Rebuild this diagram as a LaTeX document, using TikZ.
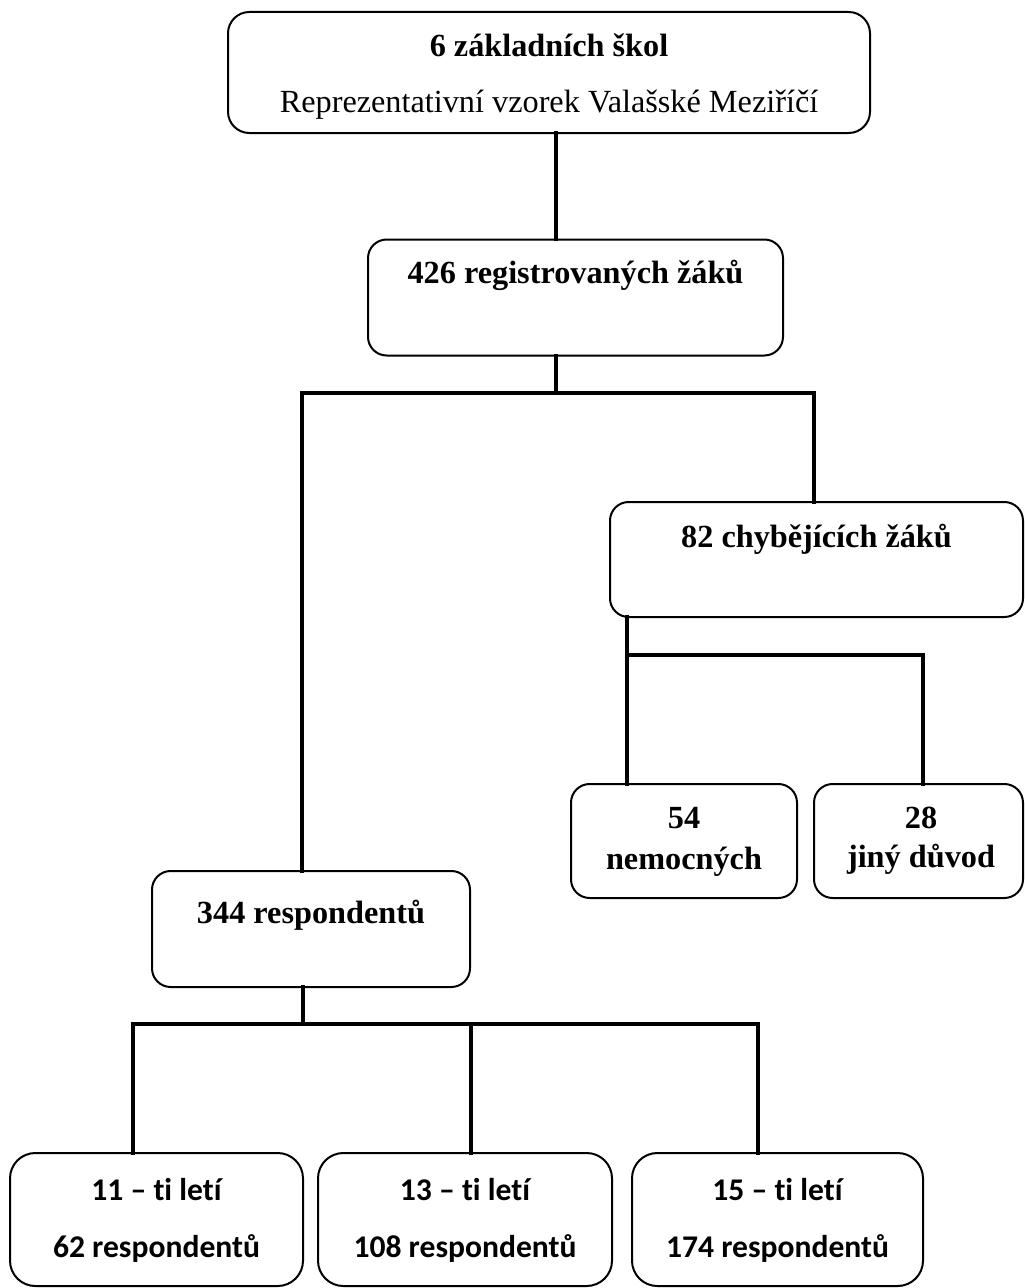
\documentclass[tikz,border=0pt]{standalone}
\usepackage{fontspec}
\setmainfont{Liberation Serif}
\newfontfamily\calib[Ligatures=NoCommon]{Carlito}
\begin{document}
\begin{tikzpicture}[x=0.75pt,y=-0.75pt,
  box/.style={draw=black, line width=1.5pt, rounded corners=14pt, inner sep=0pt, outer sep=0pt, fill=white},
  conn/.style={draw=black, line width=2.6pt, line cap=rect},
  sb/.style={anchor=base, inner sep=0pt, font=\fontsize{24.2}{28}\selectfont\bfseries},
  sr/.style={anchor=base, inner sep=0pt, font=\fontsize{24.2}{28}\selectfont},
  cb/.style={anchor=base, inner sep=0pt, font=\fontsize{23.7}{28}\selectfont\calib\bfseries}]
\useasboundingbox (0,0) rectangle (1024,1288);
% connector junctions
\coordinate (j1) at (556,393);
\coordinate (jL) at (302,393);
\coordinate (jR) at (814,393);
\coordinate (k1) at (627,655);
\coordinate (k2) at (923,655);
\coordinate (m0) at (303,1024);
\coordinate (mL) at (133,1024);
\coordinate (mM) at (471,1024);
\coordinate (mR) at (758,1024);
% boxes
\node[box, rounded corners=16pt, minimum width=481.5pt, minimum height=90.75pt] (b1) at (549,72.5) {};
\node[box, minimum width=311.25pt, minimum height=87pt] (b2) at (575.5,297.5) {};
\node[box, minimum width=309.75pt, minimum height=86.25pt] (b82) at (816.5,559.5) {};
\node[box, minimum width=169.5pt, minimum height=85.5pt] (b54) at (684,841) {};
\node[box, minimum width=156.75pt, minimum height=85.5pt] (b28) at (918.5,841) {};
\node[box, minimum width=238.5pt, minimum height=87pt] (b344) at (311,929) {};
\node[box, rounded corners=19pt, minimum width=219.75pt, minimum height=99.75pt] (b11) at (156.5,1219.5) {};
\node[box, rounded corners=19pt, minimum width=220.5pt, minimum height=99.75pt] (b13) at (465,1219.5) {};
\node[box, rounded corners=19pt, minimum width=218.25pt, minimum height=99.75pt] (b15) at (777.5,1219.5) {};
% connectors
\draw[conn] (j1 |- b1.south) -- (j1 |- b2.north);
\draw[conn] (j1 |- b2.south) -- (j1);
\draw[conn] (jL |- b344.north) -- (jL) -- (jR) -- (jR |- b82.north);
\draw[conn] (k1 |- b82.south) -- (k1 |- b54.north);
\draw[conn] (k1) -- (k2) -- (k2 |- b28.north);
\draw[conn] (m0 |- b344.south) -- (m0);
\draw[conn] (mL |- b11.north) -- (mL) -- (mR) -- (mR |- b15.north);
\draw[conn] (mM) -- (mM |- b13.north);
% texts
\node[sb] (t1a) at (549,57) {6 základních škol};
\node[sr] (t1b) at (549,113) {Reprezentativní vzorek Valašské Meziříčí};
\node[sb] (t2) at (575.5,283) {426 registrovaných žáků};
\node[sb] (t82) at (816.5,547) {82 chybějících žáků};
\node[sb] (t54a) at (684,828) {54};
\node[sb] (t54b) at (684,869) {nemocných};
\node[sb] (t28a) at (921,828) {28};
\node[sb] (t28b) at (921,867) {jiný důvod};
\node[sb] (t344) at (311,923) {344 respondentů};
\node[cb] (t11a) at (156.5,1200) {11 – ti letí};
\node[cb] (t11b) at (156.5,1257) {62 respondentů};
\node[cb] (t13a) at (465,1200) {13 – ti letí};
\node[cb] (t13b) at (465,1257) {108 respondentů};
\node[cb] (t15a) at (777.5,1200) {15 – ti letí};
\node[cb] (t15b) at (777.5,1257) {174 respondentů};
\end{tikzpicture}
\end{document}
